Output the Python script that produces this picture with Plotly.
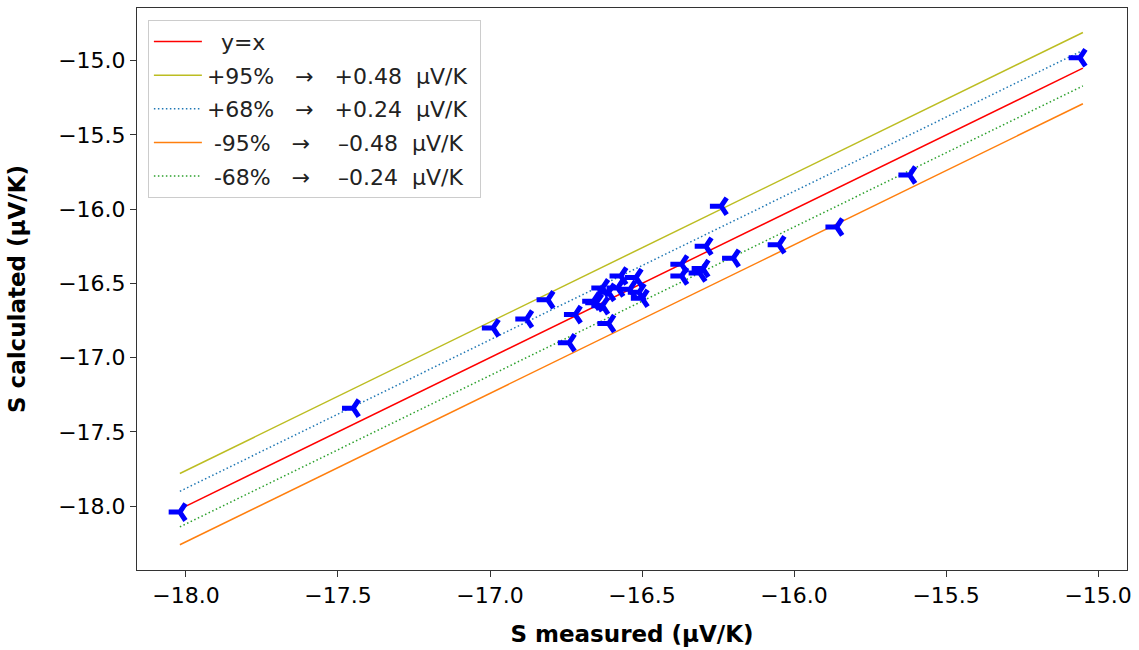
import plotly.graph_objects as go

# Datos (µV/K)
s_medido = [
    -18.02, -17.45, -16.99, -16.88, -16.81, -16.72, -16.74,
    -16.66, -16.65, -16.63, -16.63, -16.61, -16.58, -16.57,
    -16.54, -16.52, -16.51, -16.50, -16.61,
    -16.37, -16.37, -16.31, -16.30, -16.29, -16.24, -16.20,
    -16.05, -15.86, -15.62, -15.06,
]
s_calculado = [
    -18.04, -17.34, -16.80, -16.74, -16.61, -16.71, -16.90,
    -16.62, -16.63, -16.53, -16.65, -16.56, -16.53, -16.45,
    -16.54, -16.46, -16.56, -16.60, -16.77,
    -16.37, -16.45, -16.43, -16.40, -16.25, -15.98, -16.33,
    -16.24, -16.12, -15.77, -14.98,
]

# Extremos de las rectas y desplazamientos de las bandas
recta_x = [-18.02, -15.05]
NB = "\u00a0"
PUNTEADO = "1.5px,2.5px"
bandas = [
    (NB * 2 + "y=x", 0.0, "#ff0000", "solid"),
    ("+95%" + NB * 3 + "→" + NB * 3 + "+0.48" + NB * 2 + "μV/K" + NB, 0.24, "#bcbd22", "solid"),
    ("+68%" + NB * 3 + "→" + NB * 3 + "+0.24" + NB * 2 + "μV/K" + NB, 0.12, "#1f77b4", PUNTEADO),
    (NB + "-95%" + NB * 3 + "→" + NB * 4 + "–0.48" + NB * 2 + "μV/K", -0.24, "#ff7f0e", "solid"),
    (NB + "-68%" + NB * 3 + "→" + NB * 4 + "–0.24" + NB * 2 + "μV/K", -0.12, "#2ca02c", PUNTEADO),
]

FUENTE = "DejaVu Sans"

fig = go.Figure()

for i, (nombre, desp, color, estilo) in enumerate(bandas):
    fig.add_trace(go.Scatter(
        x=recta_x,
        y=[v + desp for v in recta_x],
        mode="lines",
        name=nombre,
        legendgroup=f"g{i}",
        line=dict(color=color, width=1.5, dash=estilo),
    ))

fig.add_trace(go.Scatter(
    x=s_medido,
    y=s_calculado,
    mode="markers",
    showlegend=False,
    marker=dict(
        symbol="y-left",
        size=14,
        color="#0000ff",
        line=dict(color="#0000ff", width=5),
    ),
))

eje = dict(
    showline=True,
    mirror=True,
    linecolor="#333333",
    linewidth=1,
    ticks="outside",
    ticklen=6,
    tickcolor="#333333",
    showgrid=False,
    zeroline=False,
    tickfont=dict(family=FUENTE, size=22, color="black"),
    dtick=0.5,
    tickformat=".1f",
)

fig.update_layout(
    width=1139,
    height=650,
    plot_bgcolor="white",
    paper_bgcolor="white",
    margin=dict(l=137, r=12, t=7, b=78),
    font=dict(family=FUENTE, color="black"),
    xaxis=dict(
        **eje,
        range=[-18.161, -14.905],
        title=dict(text="<b>S measured (μV/K)</b>",
                   font=dict(family=FUENTE, size=23), standoff=18),
    ),
    yaxis=dict(
        **eje,
        range=[-18.43, -14.645],
        title=dict(text="<b>S calculated (μV/K)</b>",
                   font=dict(family=FUENTE, size=23), standoff=26),
    ),
    legend=dict(
        x=0.011, y=0.979, xanchor="left", yanchor="top",
        bgcolor="rgba(255,255,255,0.8)",
        bordercolor="#cccccc", borderwidth=1,
        font=dict(family=FUENTE, size=22, color="#222222"),
        itemwidth=48,
        tracegroupgap=2,
    ),
)

# quitar el margen por defecto del body para que el gráfico quede en (0, 0)
fig.write_html(
    "out.html",
    config={"displayModeBar": False},
    post_script="document.body.style.margin='0';",
)
